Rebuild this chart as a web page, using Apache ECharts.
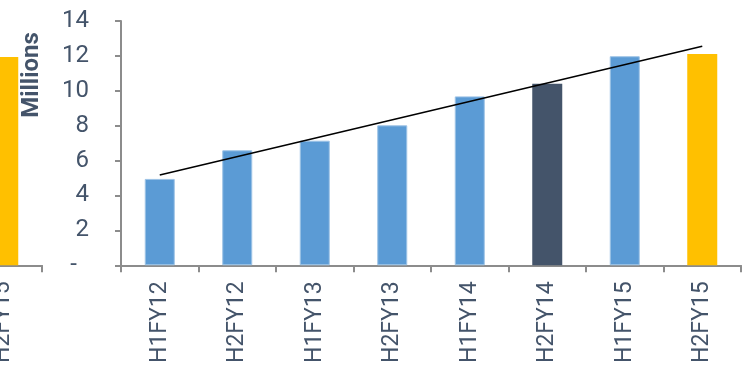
<!DOCTYPE html>
<html>
<head>
<meta charset="utf-8">
<script src="https://cdn.jsdelivr.net/npm/echarts@6/dist/echarts.min.js"></script>
<style>
  html, body { margin: 0; padding: 0; background: #ffffff; overflow: hidden; }
  #stage { position: relative; width: 745px; height: 366px; overflow: hidden; background: #ffffff; }
  #side { position: absolute; left: -699px; top: 0; width: 745px; height: 366px; }
  #chart { position: absolute; left: 0; top: 0; width: 745px; height: 366px; }
</style>
</head>
<body>
<div id="stage">
  <div id="side"></div>
  <div id="chart"></div>
</div>
<script>
// Half-year periods shown on the category axis
const periods = ['H1FY12', 'H2FY12', 'H1FY13', 'H2FY13', 'H1FY14', 'H2FY14', 'H1FY15', 'H2FY15'];
// Values in millions for each period
const values = [4.95, 6.59, 7.14, 8.02, 9.68, 10.4, 11.98, 12.11];
// Linear trend: value at the first and at the last period
const trendEnds = [5.17, 12.55];
// Neighbouring panel: only its latest period is in view
const sidePanelValues = [null, null, null, null, null, null, null, 11.93];
// Value-axis ticks
const yTicks = { min: 0, max: 14, step: 2 };

const BLUE = '#5B9BD5';
const SLATE = '#44546A';
const GOLD = '#FFC000';
const AXIS_GREY = '#8C8C8C';
const TEXT = '#44546A';

// Colour per period: the latest period and the one a year earlier are highlighted
function barColour(name) {
  if (name === 'H2FY15') return GOLD;
  if (name === 'H2FY14') return SLATE;
  return BLUE;
}

function barItems(list) {
  return list.map((v, i) => {
    const c = barColour(periods[i]);
    return {
      value: v,
      itemStyle: c === BLUE ? { color: BLUE, borderColor: '#9DC3E6', borderWidth: 1 } : { color: c }
    };
  });
}

const trendData = periods.map((_, i) =>
  i === 0 ? trendEnds[0] : (i === periods.length - 1 ? trendEnds[1] : null));

// Shared axis styling for both panels
function categoryAxis() {
  return {
    type: 'category',
    data: periods,
    boundaryGap: true,
    axisLine: { lineStyle: { color: AXIS_GREY, width: 2 } },
    axisTick: { show: true, length: 7, lineStyle: { color: AXIS_GREY, width: 2 } },
    axisLabel: {
      interval: 0,
      rotate: 90,
      margin: 16,
      color: TEXT,
      fontFamily: '"Liberation Sans Narrow", Roboto, sans-serif',
      fontSize: 23
    }
  };
}

function valueAxis(visible) {
  return {
    type: 'value',
    min: yTicks.min,
    max: yTicks.max,
    interval: yTicks.step,
    show: visible,
    splitLine: { show: false },
    axisLine: { show: true, lineStyle: { color: AXIS_GREY, width: 2 } },
    axisTick: { show: true, length: 6, lineStyle: { color: AXIS_GREY, width: 2 } },
    axisLabel: {
      margin: 32,
      color: TEXT,
      fontFamily: 'Roboto, sans-serif',
      fontSize: 24,
      formatter: v => (v === 0 ? '{dash|-}' : String(v)),
      rich: {
        dash: { color: TEXT, fontFamily: 'Roboto, sans-serif', fontSize: 24, padding: [0, 12, 0, 0] }
      }
    }
  };
}

const grid = { left: 121, right: 4, top: 21, bottom: 100 };

// Neighbouring panel, of which only the right edge shows
const side = echarts.init(document.getElementById('side'), null, { renderer: 'canvas' });
side.setOption({
  animation: false,
  grid: grid,
  xAxis: categoryAxis(),
  yAxis: valueAxis(false),
  series: [{ type: 'bar', barWidth: 30, data: barItems(sidePanelValues) }]
});

// Main panel
const chart = echarts.init(document.getElementById('chart'), null, { renderer: 'canvas' });
chart.setOption({
  animation: false,
  backgroundColor: 'transparent',
  grid: grid,
  xAxis: categoryAxis(),
  yAxis: valueAxis(true),
  graphic: [
    {
      type: 'text',
      x: 32,
      y: 75,
      rotation: Math.PI / 2,
      style: {
        text: 'Millions',
        fill: TEXT,
        font: 'bold 24px Roboto, sans-serif',
        textAlign: 'center',
        textVerticalAlign: 'middle'
      }
    }
  ],
  series: [
    { type: 'bar', barWidth: 30, data: barItems(values) },
    {
      type: 'line',
      data: trendData,
      connectNulls: true,
      symbol: 'none',
      lineStyle: { color: '#000000', width: 1.5 },
      z: 5
    }
  ]
});
</script>
</body>
</html>
